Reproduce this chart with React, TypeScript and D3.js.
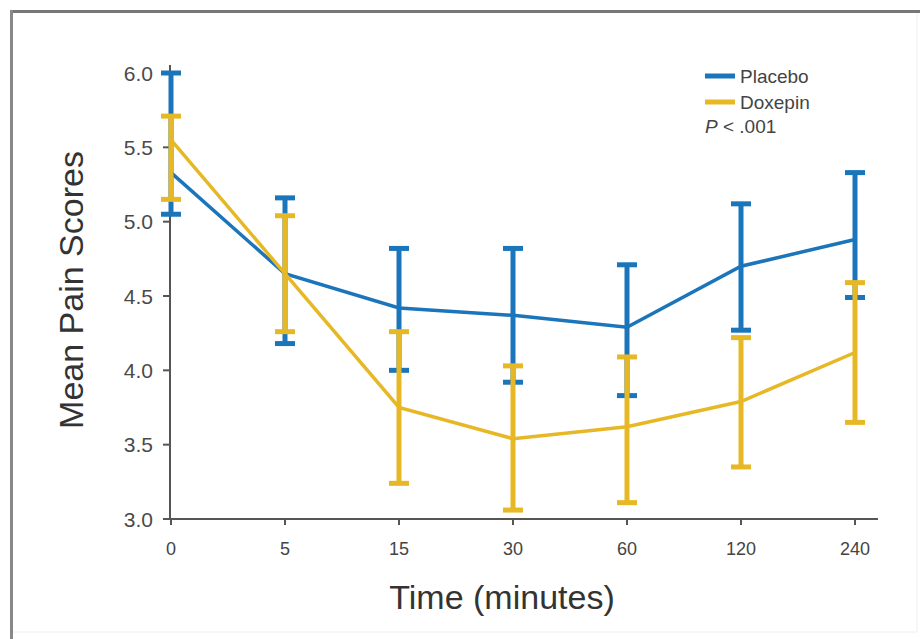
import React from 'react';
import * as d3 from 'd3';

const times = ['0', '5', '15', '30', '60', '120', '240'];
const placeboMean = [5.33, 4.65, 4.42, 4.37, 4.29, 4.7, 4.88];
const placeboHigh = [6.0, 5.16, 4.82, 4.82, 4.71, 5.12, 5.33];
const placeboLow = [5.05, 4.18, 4.0, 3.92, 3.83, 4.27, 4.49];
const doxepinMean = [5.55, 4.65, 3.75, 3.54, 3.62, 3.79, 4.12];
const doxepinHigh = [5.71, 5.04, 4.26, 4.03, 4.09, 4.22, 4.59];
const doxepinLow = [5.15, 4.26, 3.24, 3.06, 3.11, 3.35, 3.65];
const yTicks = [3.0, 3.5, 4.0, 4.5, 5.0, 5.5, 6.0];

const BLUE = '#1b75bb';
const GOLD = '#e7b825';
const FONT = '"Liberation Sans", Arial, sans-serif';

const App: React.FC = () => {
    const width = 920;
    const height = 639;

    const x = d3.scalePoint<string>().domain(times).range([171, 855]);
    const y = d3.scaleLinear().domain([3, 6]).range([519, 73]);

    const line = d3.line<number>()
        .x((_, i) => x(times[i]) as number)
        .y(d => y(d));

    const series = [
        { name: 'Placebo', color: BLUE, mean: placeboMean, high: placeboHigh, low: placeboLow },
        { name: 'Doxepin', color: GOLD, mean: doxepinMean, high: doxepinHigh, low: doxepinLow },
    ];

    return (
        <svg width={width} height={height} style={{ position: 'absolute', left: 0, top: 0 }} fontFamily={FONT}>
            <rect x={0} y={0} width={width} height={height} fill="#fff" />
            {/* frame */}
            <line x1={10} x2={920} y1={11.5} y2={11.5} stroke="#777" strokeWidth={3} />
            <line x1={11.5} x2={11.5} y1={10} y2={639} stroke="#888" strokeWidth={3} />
            <line x1={917} x2={917} y1={13} y2={632} stroke="#eee" strokeWidth={1} />
            <line x1={13} x2={917} y1={632} y2={632} stroke="#eee" strokeWidth={1} />

            {/* axes */}
            <line x1={170} x2={170} y1={y(6) - 8} y2={519} stroke="#555" strokeWidth={2} />
            <line x1={170} x2={878} y1={519} y2={519} stroke="#555" strokeWidth={2} />
            {yTicks.map(t => (
                <g key={t}>
                    <line x1={163} x2={170} y1={y(t)} y2={y(t)} stroke="#555" strokeWidth={2} />
                    <text x={153} y={y(t)} dy="0.36em" textAnchor="end" fontSize={21} fill="#4a4a4a">
                        {t.toFixed(1)}
                    </text>
                </g>
            ))}
            {times.map(t => (
                <g key={t}>
                    <line x1={x(t)} x2={x(t)} y1={519} y2={525} stroke="#555" strokeWidth={2} />
                    <text x={x(t)} y={555} textAnchor="middle" fontSize={18} fill="#444">
                        {t}
                    </text>
                </g>
            ))}

            {/* axis titles */}
            <text x={502} y={609} textAnchor="middle" fontSize={34} fill="#333">
                Time (minutes)
            </text>
            <text
                transform={`translate(83, 290) rotate(-90)`}
                textAnchor="middle"
                fontSize={34}
                fill="#333"
            >
                Mean Pain Scores
            </text>

            {/* series */}
            {series.map(s => (
                <g key={s.name}>
                    <path d={line(s.mean) || ''} fill="none" stroke={s.color} strokeWidth={3.5} />
                    {s.mean.map((_, i) => {
                        const cx = x(times[i]) as number;
                        return (
                            <g key={i}>
                                <line x1={cx} x2={cx} y1={y(s.high[i])} y2={y(s.low[i])} stroke={s.color} strokeWidth={5} />
                                <line x1={cx - 10} x2={cx + 10} y1={y(s.high[i])} y2={y(s.high[i])} stroke={s.color} strokeWidth={5} />
                                <line x1={cx - 10} x2={cx + 10} y1={y(s.low[i])} y2={y(s.low[i])} stroke={s.color} strokeWidth={5} />
                            </g>
                        );
                    })}
                </g>
            ))}

            {/* legend */}
            {series.map((s, i) => (
                <g key={s.name} transform={`translate(705, ${76 + i * 26})`}>
                    <line x1={0} x2={30} y1={0} y2={0} stroke={s.color} strokeWidth={5} />
                    <text x={35} y={0} dy="0.36em" fontSize={19} fill="#444">
                        {s.name}
                    </text>
                </g>
            ))}
            <text x={705} y={133} fontSize={19} fill="#444">
                <tspan fontStyle="italic">P</tspan> {'< .001'}
            </text>
        </svg>
    );
};

export default App;
